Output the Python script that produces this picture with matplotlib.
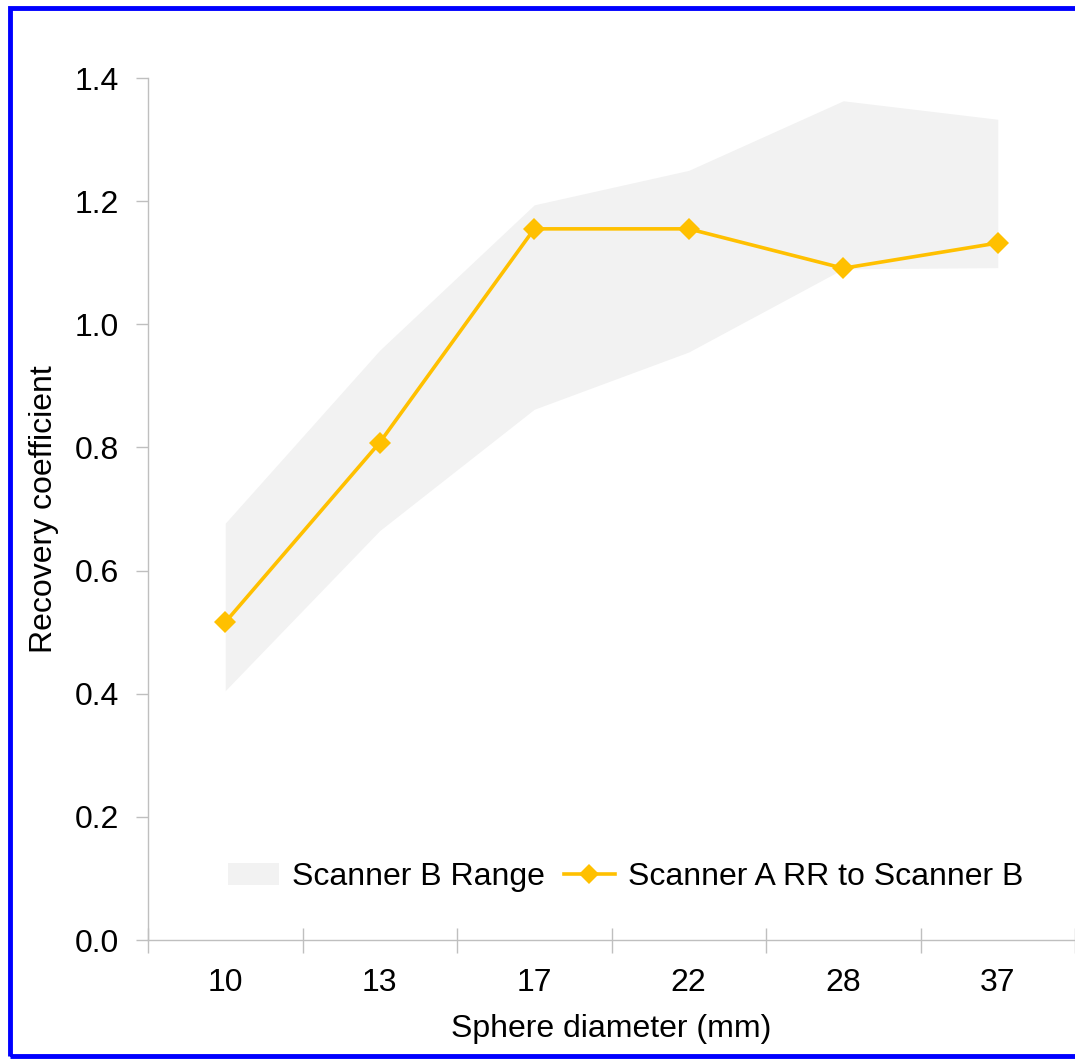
import matplotlib
matplotlib.use('Agg')
import matplotlib.pyplot as plt
from matplotlib.patches import Rectangle, Patch
from matplotlib.lines import Line2D
import numpy as np

plt.rcParams['font.family'] = ['Liberation Sans', 'DejaVu Sans']

# data
diameters = ['10', '13', '17', '22', '28', '37']
range_low = [0.405, 0.665, 0.862, 0.955, 1.090, 1.092]
range_high = [0.677, 0.958, 1.194, 1.250, 1.363, 1.333]
scanner_a = [0.516, 0.808, 1.155, 1.155, 1.091, 1.132]
y_ticks = [0.0, 0.2, 0.4, 0.6, 0.8, 1.0, 1.2, 1.4]

GOLD = '#FFC000'
FILL = '#f2f2f2'
AXC = '#bfbfbf'
FS = 23

fig = plt.figure(figsize=(10.75, 10.59), dpi=100)
ax = fig.add_axes([148 / 1075, 1 - 940 / 1059, 1 - 148 / 1075, (940 - 78) / 1059])

x = np.arange(len(diameters))
ax.fill_between(x, range_low, range_high, color=FILL, linewidth=0, zorder=1)
ax.plot(x, scanner_a, color=GOLD, linewidth=2.6, marker='D', markersize=11,
        markeredgewidth=0, zorder=3)

ax.set_xlim(-0.5, len(diameters) - 0.5)
ax.set_ylim(0, 1.4)
ax.set_yticks(y_ticks)
ax.set_yticklabels(['%.1f' % v for v in y_ticks])
ax.set_xticks(x)
ax.set_xticklabels(diameters)
ax.set_xticks(np.arange(-0.5, len(diameters)), minor=True)

for s in ['top', 'right']:
    ax.spines[s].set_visible(False)
for s in ['left', 'bottom']:
    ax.spines[s].set_color(AXC)
    ax.spines[s].set_linewidth(1.0)

ax.tick_params(axis='y', direction='out', length=9, width=1.0, color=AXC,
               labelsize=FS, pad=12)
ax.tick_params(axis='x', which='major', length=0, labelsize=FS, pad=20)
ax.tick_params(axis='x', which='minor', direction='inout', length=18, width=1.0, color=AXC)

ax.set_ylabel('Recovery coefficient', fontsize=FS, labelpad=11)
ax.set_xlabel('Sphere diameter (mm)', fontsize=FS, labelpad=12)

handles = [Patch(facecolor=FILL, edgecolor='none'),
           Line2D([0], [0], color=GOLD, linewidth=2.6, marker='D', markersize=10, markeredgewidth=0)]
ax.legend(handles, ['Scanner B Range', 'Scanner A RR to Scanner B'], loc='lower center',
          bbox_to_anchor=(0.515, 0.022), ncol=2, frameon=False, fontsize=FS,
          handlelength=1.6, handletextpad=0.4, columnspacing=0.6)

# blue frame around the picture
fig.patches.append(Rectangle((10 / 1075, 1 - 1056 / 1059), 1.2, (1056 - 8) / 1059,
                             transform=fig.transFigure, fill=False, edgecolor='#0000ff',
                             linewidth=3.5, zorder=10))

fig.savefig('out.png', dpi=100)
